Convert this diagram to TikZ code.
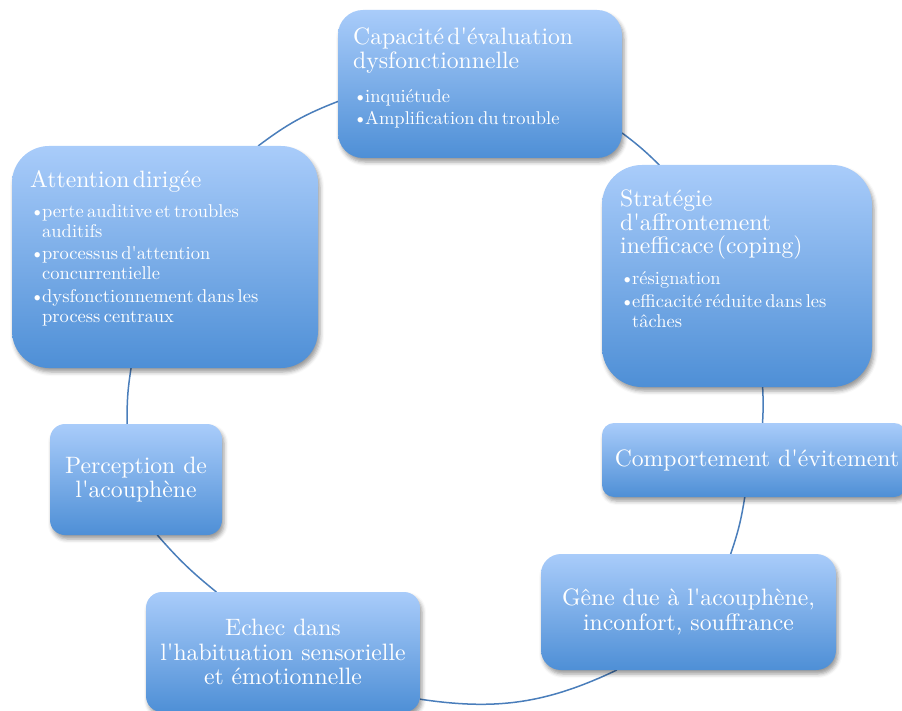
\documentclass[tikz,border=0pt]{standalone}
\usepackage{fontspec}
\setmainfont{lmroman10-regular}[Extension=.otf] % one design size for every size
\usetikzlibrary{positioning, shadows.blur, backgrounds}
\definecolor{boxtop}{HTML}{A9CCFA}
\definecolor{boxbot}{HTML}{4E8FD6}
\definecolor{ring}{HTML}{4A7EBB}
\newcommand{\q}{\textquotesingle}
\newcommand{\itm}[1]{\par\vspace{2.5pt}\hangindent=12pt\hangafter=1\noindent\makebox[12pt][l]{\textbullet}#1}
\newcommand{\ttlfont}{\fontsize{23.7}{23.5}\selectfont}
\newcommand{\itmfont}{\fontsize{18.5}{20}\selectfont}
\tikzset{
    x=1pt, y=1pt, % one unit = one pixel of the layout
    box/.style={rectangle, inner sep=0pt, outer sep=0pt, top color=boxtop, bottom color=boxbot,
        text=white, align=center, font=\fontsize{23.7}{24.8}\selectfont,
        blur shadow={shadow xshift=2pt, shadow yshift=-4pt, shadow blur radius=4pt, shadow opacity=40}}, % shaded boxes
    txt/.style={inner sep=0pt, text=white, align=left}, % text blocks in the big boxes
    link/.style={draw=ring, line width=1.5pt}, % cycle arcs
}
\begin{document}
\begin{tikzpicture}
    \path[use as bounding box, clip] (0,0) rectangle (902,-711);

    \node[box, minimum width=284, minimum height=148, rounded corners=25] (cap) at (480,-84) {};
    \node[box, minimum width=270, minimum height=222, rounded corners=40] (strat) at (737,-276) {};
    \node[box, minimum width=304, minimum height=74, rounded corners=12] (comp) at (754,-460) {\hspace*{6pt}Comportement d\q évitement};
    \node[box, minimum width=295, minimum height=116, rounded corners=20] (gene) at (688.5,-612) {Gêne due à l\q acouphène,\\inconfort, souffrance};
    \node[box, minimum width=274, minimum height=120, rounded corners=16] (echec) at (283,-652) {Echec dans\\l\q habituation sensorielle\\et émotionnelle};
    \node[box, minimum width=172, minimum height=111, rounded corners=15] (perc) at (136,-479.5) {Perception de\\l\q acouphène};
    \node[box, minimum width=306, minimum height=222, rounded corners=37] (att) at (165,-257) {};

    \node[txt, text width=270, below right=18 and 15 of cap.north west] (capT) {%
        {\ttlfont Capacité d\q évaluation\\dysfonctionnelle\par}
        \vspace{11.5pt}\itmfont
        \itm{inquiétude}
        \itm{Amplification du trouble}\par};
    \node[txt, text width=255, below right=25 and 18 of strat.north west] (stratT) {%
        {\ttlfont Stratégie\\d\q affrontement\\inefficace (coping)\par}
        \vspace{8.5pt}\itmfont
        \itm{résignation}
        \itm{efficacité réduite dans les\newline tâches}\par};
    \node[txt, text width=290, below right=24 and 18 of att.north west] (attT) {%
        {\ttlfont Attention dirigée\par}
        \vspace{7.5pt}\itmfont
        \itm{perte auditive et troubles\newline auditifs}
        \itm{processus d\q attention\newline concurrentielle}
        \itm{dysfonctionnement dans les\newline process centraux}\par};

    \begin{scope}[on background layer]
        \draw[link] (cap.-19.8) to[bend left=4] (strat.125);
        \draw[link] (strat.-77.3) to[bend left=3] (comp.77.8);
        \draw[link] (comp.256.3) to[bend left=5] (gene.54.4);
        \draw[link] (gene.219.1) to[bend left=17] (echec.-19.3);
        \draw[link] (echec.138.6) to[bend left=5] (perc.291.6);
        \draw[link] (perc.99.2) to[bend left=5] (att.253.9);
        \draw[link] (att.50.3) to[bend left=8] (cap.187.6);
    \end{scope}
\end{tikzpicture}
\end{document}
